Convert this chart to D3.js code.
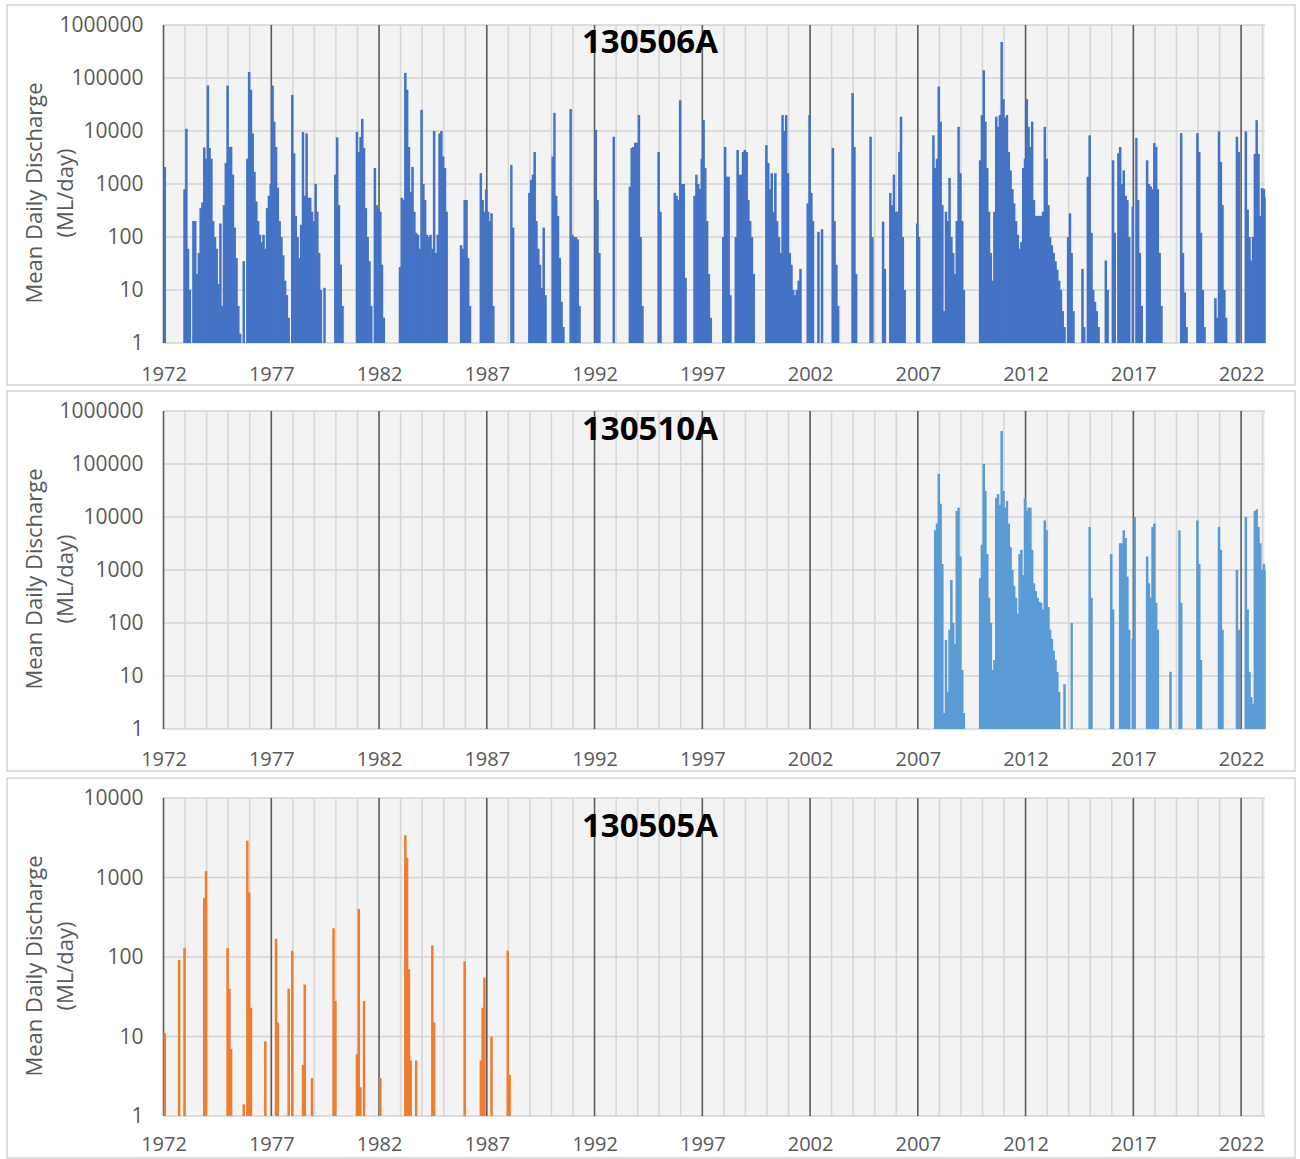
<!DOCTYPE html>
<html>
<head>
    <meta charset="utf-8">
    <title>Mean Daily Discharge</title>
    <style type="text/css">
    body { margin: 0; background: #fff; }
    .tick text { font-family: "Open Sans", sans-serif; fill: #595959; }
    </style>
</head>
<body>
  <script src="https://cdn.jsdelivr.net/npm/d3@7"></script>
  <script>

    // monthly peak of mean daily discharge (ML/day), one row per year, Jan..Dec
    var start506 = 1972;
    var flow506 = [
      2100, 0, 0, 0, 0, 0, 0, 0, 0, 0, 0, 800,                          // 1972
      11000, 60, 10, 0, 200, 200, 20, 50, 350, 450, 4900, 3000,         // 1973
      72000, 4800, 3000, 200, 100, 60, 13, 180, 5, 400, 2500, 72000,    // 1974
      5000, 5000, 1500, 150, 40, 5, 1.5, 0, 35, 0, 3000, 130000,        // 1975
      60000, 9000, 1700, 470, 200, 110, 80, 110, 60, 350, 600, 1000,    // 1976
      72000, 15000, 5000, 850, 200, 100, 45, 15, 8, 3, 0, 48000,        // 1977
      3800, 250, 100, 40, 170, 9600, 600, 9000, 550, 550, 300, 200,     // 1978
      1000, 300, 50, 10, 0, 11, 0, 0, 0, 0, 0, 1500,                    // 1979
      7600, 400, 30, 5, 0, 0, 0, 0, 0, 0, 0, 9600,                      // 1980
      4000, 7700, 17000, 4800, 350, 100, 35, 5, 0, 2000, 400, 350,      // 1981
      300, 30, 3, 0, 0, 0, 0, 0, 0, 0, 0, 27,                           // 1982
      550, 500, 125000, 60000, 5000, 700, 2100, 300, 120, 110, 60, 25000, // 1983
      1000, 500, 110, 100, 110, 60, 10000, 50, 110, 9000, 10000, 3300,  // 1984
      2000, 300, 0, 0, 0, 0, 0, 0, 0, 70, 60, 500,                      // 1985
      500, 40, 5, 0, 0, 0, 0, 0, 1600, 500, 300, 800,                   // 1986
      300, 200, 280, 5, 0, 0, 0, 0, 0, 0, 0, 0,                         // 1987
      0, 2300, 150, 0, 0, 0, 0, 0, 0, 0, 0, 680,                        // 1988
      1200, 1500, 4000, 200, 60, 30, 11, 150, 8, 0, 0, 0,               // 1989
      3300, 22000, 600, 250, 40, 6, 2, 0, 0, 0, 26000, 110,             // 1990
      100, 100, 90, 5, 1, 0, 0, 0, 0, 0, 0, 0,                          // 1991
      10500, 500, 50, 0, 0, 0, 0, 0, 0, 0, 7800, 0,                     // 1992
      0, 0, 0, 0, 0, 0, 0, 890, 4800, 5000, 6000, 6000,                 // 1993
      20000, 100, 5, 0, 0, 0, 0, 0, 0, 0, 0, 4000,                      // 1994
      300, 0, 0, 0, 0, 0, 0, 0, 680, 600, 500, 38000,                   // 1995
      1000, 1000, 17, 0, 0, 0, 0, 600, 1500, 1000, 800, 3000,           // 1996
      16000, 2000, 200, 20, 3, 0, 0, 0, 0, 0, 0, 100,                   // 1997
      5000, 1370, 1370, 8, 0, 0, 100, 4400, 1500, 1500, 4000, 4400,     // 1998
      4000, 500, 200, 100, 20, 0, 0, 0, 0, 0, 0, 5400,                  // 1999
      2500, 800, 1600, 300, 1600, 200, 100, 50, 20000, 10000, 20000, 1600, // 2000
      50, 30, 10, 8, 10, 15, 25, 0, 0, 0, 430, 20000,                   // 2001
      680, 200, 0, 0, 125, 0, 140, 0, 0, 0, 0, 0,                       // 2002
      4800, 200, 30, 5, 0, 0, 0, 0, 0, 0, 0, 52000,                     // 2003
      5000, 20, 0, 0, 0, 0, 0, 0, 0, 7800, 100, 0,                      // 2004
      0, 0, 0, 0, 195, 25, 0, 0, 680, 400, 1500, 300,                   // 2005
      300, 4000, 18600, 100, 10, 0, 0, 0, 0, 0, 0, 180,                 // 2006
      100, 0, 0, 0, 0, 0, 0, 0, 8300, 2000, 3000, 69000,                // 2007
      15000, 400, 4, 300, 200, 1300, 100, 50, 20, 200, 12000, 1600,     // 2008
      200, 10, 0, 0, 0, 0, 0, 0, 0, 0, 2800, 20000,                     // 2009
      140000, 15000, 2000, 300, 50, 15, 300, 18600, 12000, 20000, 480000, 40000, // 2010
      18000, 20000, 4000, 1800, 800, 430, 200, 110, 60, 80, 2000, 3000, // 2011
      40000, 12000, 5000, 15000, 500, 250, 250, 250, 250, 300, 12000, 3000, // 2012
      400, 100, 70, 50, 35, 24, 15, 10, 4, 2, 0, 100,                   // 2013
      280, 50, 4, 0, 0, 0, 0, 25, 2, 0, 1370, 8300,                     // 2014
      120, 10, 6, 4, 2, 0, 0, 0, 36, 10, 0, 0,                          // 2015
      2800, 120, 0, 3800, 5000, 1000, 1800, 600, 500, 100, 0, 370,      // 2016
      0, 7400, 500, 50, 5, 0, 0, 2800, 1000, 900, 800, 5900,            // 2017
      5000, 800, 50, 5, 0, 0, 0, 0, 0, 0, 0, 0,                         // 2018
      0, 0, 9100, 50, 9, 2, 0, 0, 0, 0, 0, 9100,                        // 2019
      4000, 120, 10, 2, 0, 0, 0, 0, 0, 7, 3, 9800,                      // 2020
      2600, 400, 10, 3, 0, 0, 0, 0, 0, 7800, 4000, 0,                   // 2021
      0, 0, 9800, 330, 100, 36, 100, 3700, 16000, 3700, 250, 840,       // 2022
      800, 560                                                          // 2023
    ];

    var start510 = 2007;
    var flow510 = [
      0, 0, 0, 0, 0, 0, 0, 0, 0, 5600, 7500, 65000,                     // 2007
      17800, 1300, 2, 48, 5, 75, 650, 100, 40, 13000, 15000, 1800,      // 2008
      13, 2, 0, 0, 0, 0, 0, 0, 0, 0, 700, 3000,                         // 2009
      100000, 31000, 2000, 300, 100, 13, 20, 23000, 27000, 17000, 420000, 31000, // 2010
      15000, 20000, 7500, 2700, 1000, 500, 300, 150, 2000, 2400, 800, 23000, // 2011
      13000, 15000, 15000, 2400, 560, 400, 300, 250, 240, 180, 8600, 5600, // 2012
      200, 75, 50, 30, 20, 12, 5, 0, 0, 7, 0, 0,                        // 2013
      0, 100, 0, 0, 0, 0, 0, 0, 0, 0, 0, 6500,                          // 2014
      300, 0, 0, 0, 0, 0, 0, 0, 0, 0, 0, 2000,                          // 2015
      180, 0, 0, 0, 3200, 3200, 5600, 4000, 750, 75, 0, 50,             // 2016
      10000, 0, 0, 0, 0, 0, 0, 1800, 560, 300, 6500, 7500,              // 2017
      240, 75, 0, 0, 0, 0, 0, 0, 12, 0, 0, 0,                           // 2018
      0, 5600, 240, 0, 0, 0, 0, 0, 0, 0, 0, 8600,                       // 2019
      1300, 20, 0, 0, 0, 0, 0, 0, 0, 0, 0, 6500,                        // 2020
      2400, 75, 0, 0, 0, 0, 0, 0, 0, 1000, 75, 0,                       // 2021
      0, 0, 10000, 180, 12, 4, 3, 13000, 14000, 6500, 3200, 1000,       // 2022
      1300, 1000                                                        // 2023
    ];

    var start505 = 1972;
    var flow505 = [
      11, 0, 0, 0, 0, 0, 0, 0, 92, 0, 0, 130,                           // 1972
      0, 0, 0, 0, 0, 0, 0, 0, 0, 0, 550, 1200,                          // 1973
      0, 0, 0, 0, 0, 0, 0, 0, 0, 0, 0, 130,                             // 1974
      40, 7, 0, 0, 0, 0, 0, 0, 1.4, 0, 2900, 650,                       // 1975
      23, 0, 0, 0, 0, 0, 0, 0, 8.7, 0, 0, 0,                            // 1976
      0, 0, 170, 15, 0, 0, 0, 0, 0, 40, 0, 120,                         // 1977
      0, 0, 0, 0, 0, 4.4, 45, 0, 0, 0, 3, 0,                            // 1978
      0, 0, 0, 0, 0, 0, 0, 0, 0, 0, 230, 28,                            // 1979
      0, 0, 0, 0, 0, 0, 0, 0, 0, 0, 0, 6,                               // 1980
      400, 2.3, 0, 28, 0, 0, 0, 0, 0, 0, 0, 0,                          // 1981
      3, 0, 0, 0, 0, 0, 0, 0, 0, 0, 0, 0,                               // 1982
      0, 0, 3400, 1750, 70, 5, 0, 0, 5, 0, 0, 0,                        // 1983
      0, 0, 0, 0, 0, 140, 15, 0, 0, 0, 0, 0,                            // 1984
      0, 0, 0, 0, 0, 0, 0, 0, 0, 0, 0, 88,                              // 1985
      0, 0, 0, 0, 0, 0, 0, 0, 5, 23, 55, 0,                             // 1986
      0, 0, 10, 0, 0, 0, 0, 0, 0, 0, 0, 120,                            // 1987
      3.3                                                               // 1988
    ];

    var stations = ["130506A", "130510A", "130505A"];
    var colours  = ["#4472C4", "#5B9BD5", "#ED7D31"];
    var yMax     = [1000000, 1000000, 10000];
    var yearTicks = [1972, 1977, 1982, 1987, 1992, 1997, 2002, 2007, 2012, 2017, 2022];

    //page size and layout of the three stacked panels
    var W = 1300, H = 1159;
    var panelTop = [5, 391, 778],
        panelH = 380,
        plotTop = 20, plotBottom = 338,
        plotLeft = 163.5, plotRight = 1265,
        titleY = [48, 49, 59],
        labelPad = [24, 23, 21];

    var svg = d3.select("body")
      .append("svg")
      .attr("width", W)
      .attr("height", H);

    //shared time scale: Jan 1972 .. Feb 2023
    var xScale = d3.scaleTime()
      .domain([new Date(1972, 0, 1), new Date(2023, 1, 10)])
      .range([plotLeft, plotRight])
      .clamp(true);

    //turn a flat month list into bar records
    function toMonths(start, vals){
      return vals.map(function(v, i){
        var yr = start + Math.floor(i / 12), mo = i % 12;
        return {date: new Date(yr, mo, 1), next: new Date(yr, mo + 1, 1), value: v};
      }).filter(function(d){ return d.value >= 1; });
    }

    var series = [
      toMonths(start506, flow506),
      toMonths(start510, flow510),
      toMonths(start505, flow505)
    ];

    var allYears = d3.range(1972, 2024);

    series.forEach(function(data, p){

      var g = svg.append("g")
        .attr("transform", "translate(0," + panelTop[p] + ")");

      //panel frame
      g.append("rect")
        .attr("x", 7).attr("y", 0)
        .attr("width", 1288).attr("height", panelH)
        .attr("fill", "#fff")
        .attr("stroke", "#c9c9c9")
        .attr("stroke-width", 1.2);

      var yScale = d3.scaleLog()
        .domain([1, yMax[p]])
        .range([plotBottom, plotTop]);

      var decades = [];
      for (var v = 1; v <= yMax[p]; v *= 10) decades.push(v);

      //plot background
      g.append("rect")
        .attr("x", plotLeft).attr("y", plotTop)
        .attr("width", plotRight - plotLeft).attr("height", plotBottom - plotTop)
        .attr("fill", "#f3f3f3");

      //minor yearly gridlines
      g.selectAll("line.minor")
        .data(allYears.filter(function(y){ return (y - 1972) % 5 != 0; }))
        .enter()
        .append("line")
        .attr("class", "minor")
        .attr("x1", function(d){ return xScale(new Date(d, 0, 1)); })
        .attr("x2", function(d){ return xScale(new Date(d, 0, 1)); })
        .attr("y1", plotTop).attr("y2", plotBottom)
        .attr("stroke", "#d6d6d6")
        .attr("stroke-width", 1.6);

      //horizontal gridlines at each decade
      g.selectAll("line.hgrid")
        .data(decades)
        .enter()
        .append("line")
        .attr("class", "hgrid")
        .attr("x1", plotLeft).attr("x2", plotRight)
        .attr("y1", function(d){ return yScale(d); })
        .attr("y2", function(d){ return yScale(d); })
        .attr("stroke", "#d3d3d3")
        .attr("stroke-width", 1.6);

      //major 5-year gridlines
      g.selectAll("line.major")
        .data(yearTicks)
        .enter()
        .append("line")
        .attr("class", "major")
        .attr("x1", function(d){ return xScale(new Date(d, 0, 1)); })
        .attr("x2", function(d){ return xScale(new Date(d, 0, 1)); })
        .attr("y1", plotTop).attr("y2", plotBottom)
        .attr("stroke", "#5a5a5a")
        .attr("stroke-width", 1.6);

      //monthly discharge bars (a little overlap so runs read as solid)
      g.selectAll("rect.bar")
        .data(data)
        .enter()
        .append("rect")
        .attr("class", "bar")
        .attr("x", function(d){ return xScale(d.date); })
        .attr("width", function(d){ return Math.max(0, xScale(d.next) - xScale(d.date)) + 0.7; })
        .attr("y", function(d){ return yScale(d.value); })
        .attr("height", function(d){ return plotBottom - yScale(d.value); })
        .attr("fill", colours[p]);

      //y axis labels
      var yAxis = g.append("g")
        .attr("transform", "translate(" + plotLeft + ",0)")
        .call(d3.axisLeft(yScale).tickValues(decades).tickFormat(d3.format("d")).tickSize(0).tickPadding(20));
      yAxis.select(".domain").remove();
      yAxis.selectAll("text").style("font-size", "21px");

      //x axis labels
      var xAxis = g.append("g")
        .attr("transform", "translate(0," + plotBottom + ")")
        .call(d3.axisBottom(xScale)
          .tickValues(yearTicks.map(function(y){ return new Date(y, 0, 1); }))
          .tickFormat(d3.timeFormat("%Y")).tickSize(0).tickPadding(labelPad[p]));
      xAxis.select(".domain").remove();
      xAxis.selectAll("text").style("font-size", "20px");

      //y axis title, two lines
      var midY = (plotTop + plotBottom) / 2 + 9;
      ["Mean Daily Discharge", "(ML/day)"].forEach(function(t, i){
        g.append("text")
          .attr("transform", "translate(" + (33 + i * 31) + "," + midY + ") rotate(-90)")
          .attr("text-anchor", "middle")
          .attr("dominant-baseline", "central")
          .style("font-family", "Open Sans, sans-serif")
          .style("font-size", "22px")
          .style("fill", "#595959")
          .text(t);
      });

      //station title
      g.append("text")
        .attr("x", 650)
        .attr("y", titleY[p])
        .attr("text-anchor", "middle")
        .style("font-family", "Open Sans, sans-serif")
        .style("font-weight", "700")
        .style("font-size", "33px")
        .style("fill", "#000")
        .text(stations[p]);
    });

  </script>
</body>
</html>
